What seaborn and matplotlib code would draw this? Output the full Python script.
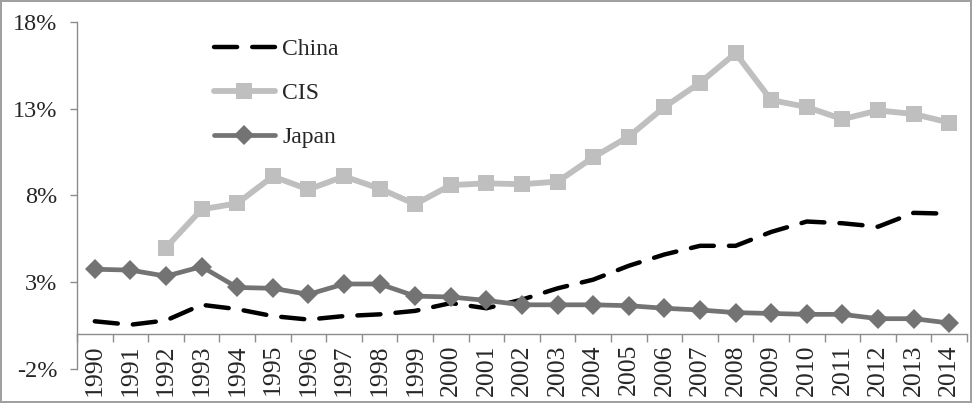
import numpy as np
import pandas as pd
import matplotlib
matplotlib.use("Agg")
import matplotlib.pyplot as plt
from matplotlib.ticker import FuncFormatter, FixedLocator
import seaborn as sns

years = list(range(1990, 2015))
china = [0.75, 0.55, 0.8, 1.7, 1.45, 1.05, 0.85, 1.05, 1.15, 1.35, 1.8, 1.5,
         2.0, 2.65, 3.15, 3.95, 4.6, 5.1, 5.1, 5.9, 6.5, 6.4, 6.2, 7.0, 6.95]
cis = [np.nan, np.nan, 5.0, 7.2, 7.55, 9.1, 8.35, 9.1, 8.4, 7.5, 8.6, 8.7,
       8.65, 8.8, 10.2, 11.4, 13.1, 14.5, 16.2, 13.5, 13.1, 12.4, 12.9, 12.7, 12.2]
japan = [3.75, 3.7, 3.35, 3.9, 2.7, 2.65, 2.3, 2.9, 2.9, 2.2, 2.15, 1.95,
         1.7, 1.7, 1.7, 1.65, 1.5, 1.4, 1.25, 1.2, 1.15, 1.15, 0.9, 0.9, 0.65]
y_ticks = [-2, 3, 8, 13, 18]
series_names = ["China", "CIS", "Japan"]

sns.set_style("white")
plt.rcParams["font.family"] = ["Liberation Serif", "DejaVu Serif"]

fig = plt.figure(figsize=(9.72, 4.03), dpi=100, linewidth=1.5, edgecolor="#a0a0a0")
ax = fig.add_axes([77 / 972, 1 - 369 / 403, (967 - 77) / 972, (369 - 22) / 403])

df = pd.DataFrame({"year": years, "China": china, "CIS": cis, "Japan": japan})

sns.lineplot(data=df, x="year", y="China", ax=ax, color="black", lw=3.2,
             label="China")
ax.lines[-1].set_dashes((5.2, 3.4))
ax.lines[-1].set_dash_capstyle("round")
sns.lineplot(data=df.dropna(subset=["CIS"]), x="year", y="CIS", ax=ax,
             color="#bfbfbf", lw=4.2, marker="s", markersize=12,
             markeredgewidth=0, label="CIS")
sns.lineplot(data=df, x="year", y="Japan", ax=ax, color="#737373", lw=3.4,
             marker="D", markersize=10, markeredgewidth=0, label="Japan")

for s in ["top", "right"]:
    ax.spines[s].set_visible(False)
ax.spines["bottom"].set_position(("data", 0))
for s in ["left", "bottom"]:
    ax.spines[s].set_color("#8c8c8c")
    ax.spines[s].set_linewidth(1.0)

ax.set_xlim(years[0] - 0.5, years[-1] + 0.5)
ax.set_ylim(y_ticks[0], y_ticks[-1])
ax.set_yticks(y_ticks)
ax.yaxis.set_major_formatter(FuncFormatter(lambda v, p: f"{v:.0f}%"))
ax.set_xticks(years)
ax.set_xticklabels([str(y) for y in years])
ax.xaxis.set_minor_locator(FixedLocator([y - 0.5 for y in years] + [years[-1] + 0.5]))
ax.set_xlabel("")
ax.set_ylabel("")

ax.tick_params(axis="y", which="major", direction="out", length=5, width=1,
               color="#8c8c8c", left=True, pad=9, labelsize=17.5)
ax.tick_params(axis="x", which="major", length=0, pad=7, labelsize=18.5,
               bottom=True, labelrotation=90)
ax.tick_params(axis="x", which="minor", direction="out", length=6, width=1,
               color="#8c8c8c", bottom=True)

leg = ax.legend(loc="upper left", bbox_to_anchor=(0.135, 1.0), frameon=False,
                fontsize=17, handlelength=2.6, handletextpad=0.3,
                labelspacing=0.95, borderaxespad=0.3)

fig.savefig("out.png", dpi=100, edgecolor=fig.get_edgecolor())
